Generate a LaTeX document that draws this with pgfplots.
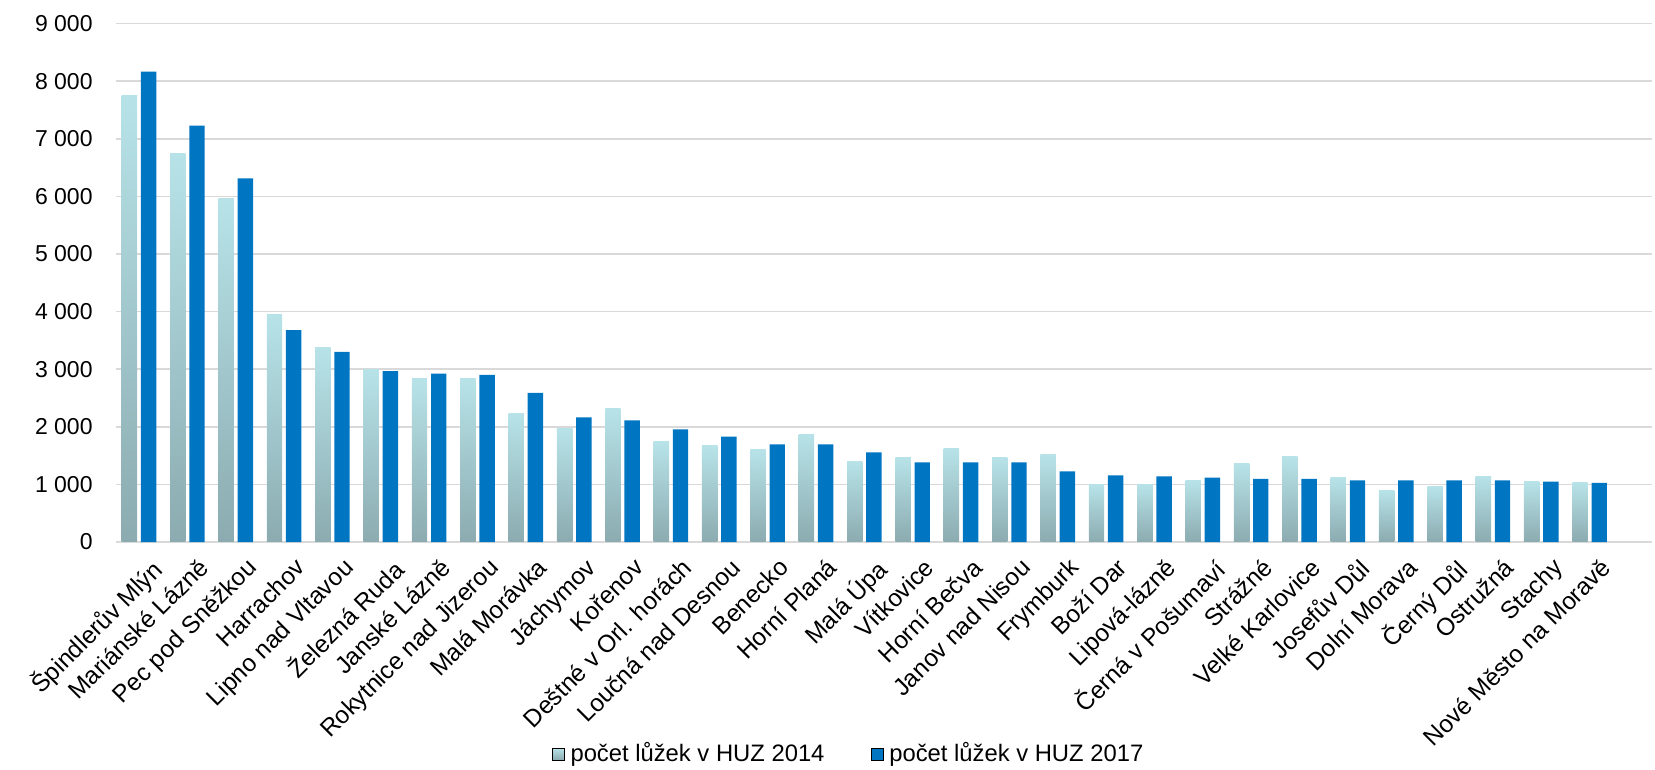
\documentclass[border=0pt]{standalone}
\usepackage{fontspec}
\setmainfont{Liberation Sans}
\usepackage{pgfplots}
\usepackage{pgfplotstable}
\pgfplotsset{compat=1.18}
\definecolor{lighttop}{HTML}{B7E3E8}
\definecolor{lightbot}{HTML}{8BABB0}
\definecolor{blueb}{HTML}{0075C2}
\definecolor{gridc}{HTML}{D9D9D9}
\pgfplotstableread{
idx a b
0 7744 8167
1 6737 7228
2 5960 6314
3 3947 3679
4 3375 3300
5 2996 2965
6 2834 2921
7 2834 2902
8 2231 2590
9 1965 2165
10 2316 2113
11 1737 1957
12 1667 1829
13 1598 1696
14 1870 1696
15 1401 1557
16 1470 1383
17 1627 1383
18 1470 1383
19 1517 1227
20 1000 1158
21 1002 1141
22 1071 1117
23 1361 1094
24 1477 1094
25 1117 1071
26 892 1071
27 961 1071
28 1141 1071
29 1048 1048
30 1025 1025
}\datatable
\begin{document}
\fontsize{11.5bp}{13bp}\selectfont
\begin{tikzpicture}
\path[use as bounding box] (0,0) rectangle (827.5bp,385bp);
\begin{axis}[
  at={(58bp,114bp)}, anchor=south west,
  scale only axis, width=768bp, height=259.25bp,
  xmin=-0.476, xmax=31.29, ymin=0, ymax=9000,
  enlargelimits=false, clip=false,
  ytick={0,1000,...,9000},
  scaled y ticks=false,
  /pgf/number format/assume math mode=true,
  yticklabel style={/pgf/number format/1000 sep={\ }, inner sep=0pt, xshift=-11.5bp, font=\fontsize{11.5bp}{13bp}\selectfont},
  xtick={0,...,30},
  xticklabels={Špindlerův Mlýn, Mariánské Lázně, Pec pod Sněžkou, Harrachov, Lipno nad Vltavou, Železná Ruda, Janské Lázně, Rokytnice nad Jizerou, Malá Morávka, Jáchymov, Kořenov, Deštné v Orl. horách, Loučná nad Desnou, Benecko, Horní Planá, Malá Úpa, Vítkovice, Horní Bečva, Janov nad Nisou, Frymburk, Boží Dar, Lipová-lázně, Černá v Pošumaví, Strážné, Velké Karlovice, Josefův Důl, Dolní Morava, Černý Důl, Ostružná, Stachy, Nové Město na Moravě},
  xticklabel style={rotate=45, anchor=north east, inner sep=0pt, yshift=-8.5bp, xshift=-1.5bp, font=\fontsize{12.2bp}{14bp}\selectfont},
  axis line style={draw=none},
  tick style={draw=none}, major tick length=0pt,
  ymajorgrids, grid style={gridc, line width=0.8bp},
  legend columns=2,
  legend style={draw=none, fill=none, at={(0.4782,-0.4089)}, anchor=center, font=\fontsize{11.9bp}{14bp}\selectfont, nodes={inner xsep=3bp}, /tikz/every even column/.append style={column sep=20bp}},
  legend image code/.code={\fill[#1] (0bp,-3bp) rectangle (6bp,3bp);},
]
\pgfplotsinvokeforeach{0,...,30}{
  \addplot[ybar, bar width=7.7bp, bar shift=-4.8bp, draw=none, top color=lighttop, bottom color=lightbot, forget plot,
    x filter/.expression={abs(x-#1)<0.1 ? x : nan}] table[x=idx, y=a] {\datatable};
}
\addplot[ybar, bar width=7.7bp, bar shift=4.8bp, draw=none, fill=blueb, forget plot] table[x=idx, y=b] {\datatable};
\addlegendimage{top color=lighttop, bottom color=lightbot}
\addlegendentry{počet lůžek v HUZ 2014}
\addlegendimage{fill=blueb}
\addlegendentry{počet lůžek v HUZ 2017}
\end{axis}
\end{tikzpicture}
\end{document}
